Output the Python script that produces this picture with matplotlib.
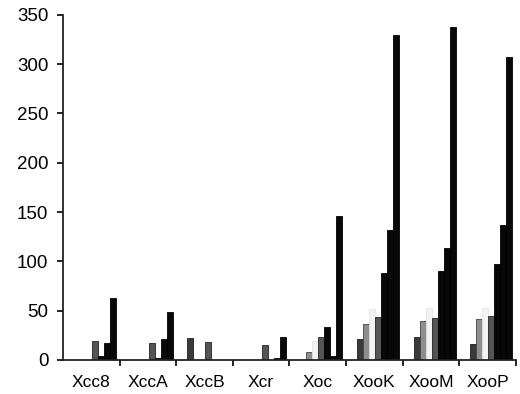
import numpy as np
import matplotlib
matplotlib.use("Agg")
import matplotlib.pyplot as plt

plt.rcParams['font.family'] = ['Liberation Sans', 'DejaVu Sans']

strains = ["Xcc8", "XccA", "XccB", "Xcr", "Xoc", "XooK", "XooM", "XooP"]

# seven series per strain
s0 = [0, 0, 22, 0, 0, 21, 23, 16]
s1 = [0, 0, 0, 0, 8, 37, 40, 42]
s2 = [0, 0, 0, 0, 19, 52, 53, 53]
s3 = [19, 17, 18, 15, 23, 44, 43, 45]
s4 = [4, 2, 0, 0, 33, 88, 90, 97]
s5 = [17, 21, 0, 2, 4, 132, 114, 137]
s6 = [63, 49, 0, 23, 146, 330, 338, 307]

series = [s0, s1, s2, s3, s4, s5, s6]
colors = ["#3a3a3a", "#8e8e8e", "#f2f2f2", "#555555",
          "#080808", "#080808", "#080808"]
edges = ["#1e1e1e", "#444444", "#e4e4e4", "#222222",
         "#000000", "#000000", "#000000"]

fig = plt.figure(figsize=(5.2, 3.94), dpi=100)
ax = fig.add_axes([0.121, 0.0863, 0.871, 0.876])

x = np.arange(len(strains))
w = 0.106
for j, vals in enumerate(series):
    ax.bar(x + 0.194 + j * w, vals, width=w, align="edge",
           color=colors[j], edgecolor=edges[j], linewidth=0.6)

ax.set_xlim(0, len(strains))
ax.set_ylim(0, 350)
ax.set_yticks(range(0, 351, 50))
ax.set_xticks(np.arange(1, len(strains) + 1))
ax.set_xticklabels([])
ax.set_xticks(x + 0.5, minor=True)
ax.set_xticklabels(strains, minor=True)
ax.tick_params(axis="x", which="minor", length=0, labelsize=12.5, pad=11)
ax.tick_params(axis="x", which="major", length=4, width=1.2)
ax.tick_params(axis="y", length=4.5, width=1.2, labelsize=13.5, pad=6)

for side in ("top", "right"):
    ax.spines[side].set_visible(False)
for side in ("left", "bottom"):
    ax.spines[side].set_linewidth(1.3)
    ax.spines[side].set_color("#222222")

fig.savefig("out.png", dpi=100)
